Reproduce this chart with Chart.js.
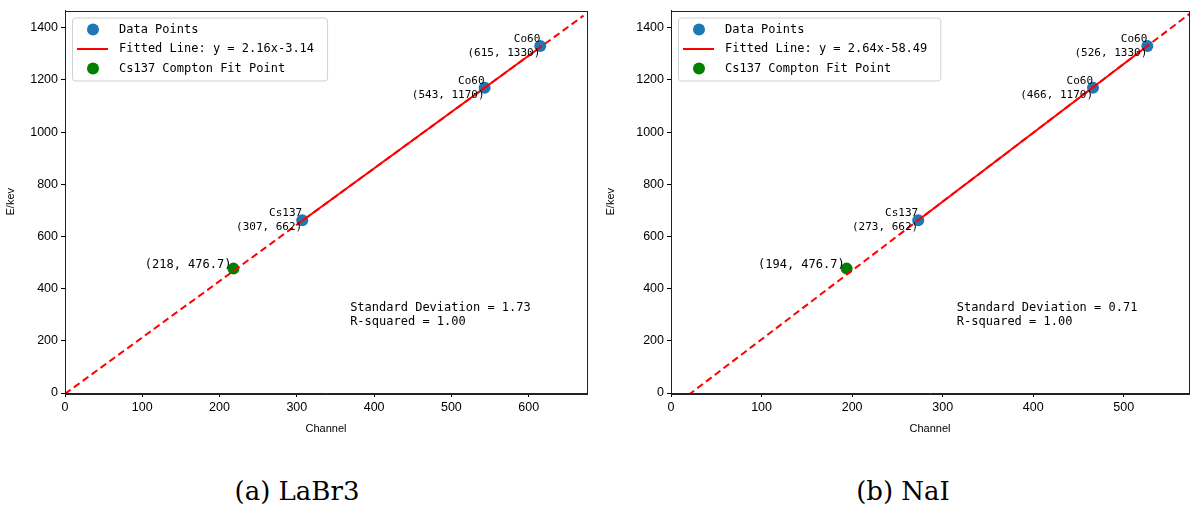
<!DOCTYPE html>
<html>
<head>
<meta charset="utf-8">
<script src="https://cdn.jsdelivr.net/npm/chart.js@4/dist/chart.umd.min.js"></script>
<style>
    body { margin: 0; background: #fff; width: 1190px; height: 510px; position: relative; overflow: hidden; }
    .panel { position: absolute; top: 0; height: 445px; }
    .caption { position: absolute; top: 476px; font-family: "DejaVu Serif", serif; font-size: 26px; color: #000; transform: translateX(-50%); white-space: nowrap; }
</style>
</head>
<body>
<div class="panel" style="left:0; width:595px;"><canvas id="labrChart" width="595" height="445"></canvas></div>
<div class="panel" style="left:600px; width:600px;"><canvas id="naiChart" width="600" height="445"></canvas></div>
<div class="caption" style="left:297px;">(a) LaBr3</div>
<div class="caption" style="left:903px;">(b) NaI</div>
<script>
// LaBr3 data
const labrNames = ['Cs137', 'Co60', 'Co60'];
const labrChannels = [307, 543, 615];
const labrEnergies = [662, 1170, 1330];
const labrSlope = 2.16;
const labrIntercept = -3.14;
const labrCompton = [218, 476.7];
const labrStd = '1.73';
const labrR2 = '1.00';
const labrLineEnd = 671;
const labrXMax = 675.5;

// NaI data
const naiNames = ['Cs137', 'Co60', 'Co60'];
const naiChannels = [273, 466, 526];
const naiEnergies = [662, 1170, 1330];
const naiSlope = 2.64;
const naiIntercept = -58.49;
const naiCompton = [194, 476.7];
const naiStd = '0.71';
const naiR2 = '1.00';
const naiLineEnd = 580;
const naiXMax = 572;

const yMax = 1466;
const yTicks = [0, 200, 400, 600, 800, 1000, 1200, 1400];

const monoFont = '"DejaVu Sans Mono", "Liberation Mono", monospace';
const sansFont = '"Liberation Sans", Arial, sans-serif';

// frame around the plot area, legend box and text annotations
const decorPlugin = {
    id: 'decor',
    afterDatasetsDraw(chart, args, opts) {
        const ctx = chart.ctx;
        const area = chart.chartArea;
        const xs = chart.scales.x;
        const ys = chart.scales.y;
        ctx.save();

        // point labels
        ctx.fillStyle = '#000';
        ctx.font = '11px ' + monoFont;
        ctx.textAlign = 'right';
        opts.names.forEach((name, i) => {
            const px = xs.getPixelForValue(opts.channels[i]);
            const py = ys.getPixelForValue(opts.energies[i]);
            ctx.textBaseline = 'middle';
            ctx.fillText(name, px, py - 7);
            ctx.fillText(`(${opts.channels[i]}, ${opts.energies[i]})`, px, py + 7);
        });
        const cx = xs.getPixelForValue(opts.compton[0]);
        const cy = ys.getPixelForValue(opts.compton[1]);
        ctx.textBaseline = 'bottom';
        ctx.font = '12px ' + monoFont;
        ctx.fillText(`(${opts.compton[0]}, ${opts.compton[1]})`, cx - 2, cy + 2);

        // fit statistics
        ctx.textAlign = 'left';
        ctx.textBaseline = 'middle';
        const sx = xs.getPixelForValue(opts.statsX);
        const sy = ys.getPixelForValue(opts.statsY);
        ctx.fillText(`Standard Deviation = ${opts.std}`, sx, sy - 7);
        ctx.fillText(`R-squared = ${opts.r2}`, sx, sy + 7.5);

        // legend
        const entries = chart.data.datasets.filter(d => d.legendIndex !== undefined)
            .sort((a, b) => a.legendIndex - b.legendIndex);
        ctx.font = '12px ' + monoFont;
        const textW = Math.max(...entries.map(d => ctx.measureText(d.label).width));
        const bx = area.left + 7, by = area.top + 7;
        const bw = 54 + textW + 6, bh = 63;
        ctx.fillStyle = 'rgba(255,255,255,0.8)';
        ctx.strokeStyle = '#d0d0d0';
        ctx.lineWidth = 1;
        ctx.beginPath();
        ctx.roundRect(bx + 0.5, by + 0.5, bw, bh, 3);
        ctx.fill();
        ctx.stroke();
        entries.forEach((d, i) => {
            const ry = by + 12 + i * 19.5;
            if (d.showLine) {
                ctx.strokeStyle = d.borderColor;
                ctx.lineWidth = 2;
                ctx.beginPath();
                ctx.moveTo(bx + 5, ry);
                ctx.lineTo(bx + 36, ry);
                ctx.stroke();
            } else {
                ctx.fillStyle = d.backgroundColor;
                ctx.beginPath();
                ctx.arc(bx + 21, ry, 6, 0, Math.PI * 2);
                ctx.fill();
            }
            ctx.fillStyle = '#000';
            ctx.textAlign = 'left';
            ctx.textBaseline = 'middle';
            ctx.fillText(d.label, bx + 47, ry);
        });

        // axes frame
        ctx.strokeStyle = '#222';
        ctx.lineWidth = 1;
        ctx.strokeRect(Math.round(area.left) + 0.5, Math.round(area.top) + 0.5,
            Math.round(area.right - area.left), Math.round(area.bottom - area.top));
        ctx.restore();
    }
};

function makeChart(canvasId, cfg) {
    const lineY = x => cfg.slope * x + cfg.intercept;
    const firstX = Math.min(...cfg.channels);
    const lastX = Math.max(...cfg.channels);
    const ctx = document.getElementById(canvasId).getContext('2d');
    return new Chart(ctx, {
        type: 'scatter',
        data: {
            datasets: [
                {
                    label: `Fitted Line: y = ${cfg.slope}x${cfg.intercept}`,
                    data: [{ x: firstX, y: lineY(firstX) }, { x: lastX, y: lineY(lastX) }],
                    showLine: true, borderColor: '#ff0000', borderWidth: 2, pointRadius: 0,
                    order: 0, legendIndex: 1, clip: 0
                },
                {
                    label: 'extension',
                    data: [{ x: 0, y: lineY(0) }, { x: cfg.lineEnd, y: lineY(cfg.lineEnd) }],
                    showLine: true, borderColor: '#ff0000', borderWidth: 2, borderDash: [7, 4],
                    pointRadius: 0, order: 1, clip: 0
                },
                {
                    label: 'Data Points',
                    data: cfg.channels.map((c, i) => ({ x: c, y: cfg.energies[i] })),
                    backgroundColor: '#1f77b4', borderWidth: 0, pointRadius: 6,
                    order: 2, legendIndex: 0
                },
                {
                    label: 'Cs137 Compton Fit Point',
                    data: [{ x: cfg.compton[0], y: cfg.compton[1] }],
                    backgroundColor: '#008000', borderWidth: 0, pointRadius: 6,
                    order: 2, legendIndex: 2
                }
            ]
        },
        options: {
            responsive: false,
            animation: false,
            events: [],
            layout: { padding: { top: 7, right: cfg.padRight, left: 0, bottom: 0 } },
            plugins: {
                legend: { display: false },
                tooltip: { enabled: false },
                decor: {
                    names: cfg.names, channels: cfg.channels, energies: cfg.energies,
                    compton: cfg.compton, std: cfg.std, r2: cfg.r2,
                    statsX: 0.6 * lastX, statsY: 300
                }
            },
            scales: {
                x: {
                    type: 'linear', min: 0, max: cfg.xMax,
                    afterFit: s => { s.height = 52; },
                    grid: { drawOnChartArea: false, drawTicks: true, tickLength: 4, color: '#000' },
                    border: { display: true, color: '#222' },
                    ticks: { stepSize: 100, includeBounds: false, color: '#000', padding: 3,
                        callback: v => String(v),
                        font: { family: sansFont, size: 12.5 } },
                    title: { display: true, text: 'Channel', color: '#000', padding: { top: 0, bottom: 9 },
                        font: { family: sansFont, size: 11 } }
                },
                y: {
                    type: 'linear', min: 0, max: yMax,
                    afterFit: s => { s.width = cfg.yAxisWidth; },
                    afterBuildTicks: s => { s.ticks = yTicks.map(v => ({ value: v })); },
                    grid: { drawOnChartArea: false, drawTicks: true, tickLength: 4, color: '#000' },
                    border: { display: true, color: '#222' },
                    ticks: { color: '#000', padding: 3, callback: v => String(v),
                        font: { family: sansFont, size: 12.5 } },
                    title: { display: true, text: 'E/kev', color: '#000', padding: { bottom: 0, top: 4 },
                        font: { family: sansFont, size: 11 } }
                }
            }
        },
        plugins: [decorPlugin]
    });
}

makeChart('labrChart', {
    names: labrNames, channels: labrChannels, energies: labrEnergies,
    slope: labrSlope, intercept: labrIntercept, compton: labrCompton,
    std: labrStd, r2: labrR2, lineEnd: labrLineEnd, xMax: labrXMax,
    yAxisWidth: 65, padRight: 8
});
makeChart('naiChart', {
    names: naiNames, channels: naiChannels, energies: naiEnergies,
    slope: naiSlope, intercept: naiIntercept, compton: naiCompton,
    std: naiStd, r2: naiR2, lineEnd: naiLineEnd, xMax: naiXMax,
    yAxisWidth: 71, padRight: 11
});
</script>
</body>
</html>
